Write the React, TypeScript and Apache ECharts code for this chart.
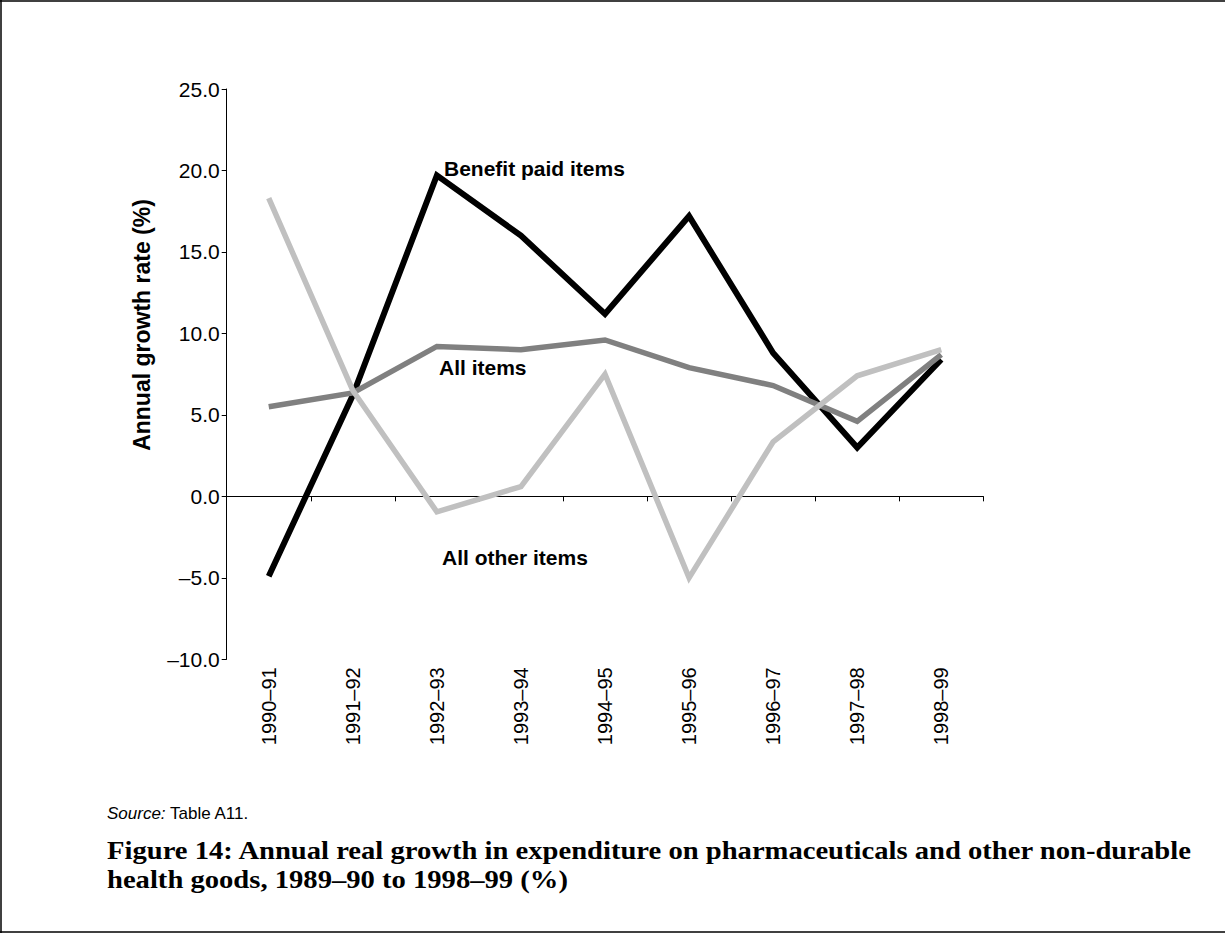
import React, { useEffect, useRef } from "react";
import * as echarts from "echarts";

const categories = ["1990–91", "1991–92", "1992–93", "1993–94", "1994–95", "1995–96", "1996–97", "1997–98", "1998–99"];
const benefitPaid = [-4.9, 6.2, 19.7, 16.0, 11.2, 17.2, 8.8, 3.0, 8.4];
const allItems = [5.5, 6.35, 9.2, 9.0, 9.6, 7.9, 6.8, 4.6, 8.7];
const allOther = [18.3, 6.5, -0.95, 0.6, 7.5, -5.0, 3.35, 7.4, 9.0];
const yTicks = { min: -10, max: 25, interval: 5 };

const SANS = "'Liberation Sans', Arial, sans-serif";
const SERIF = "'Liberation Serif', 'Times New Roman', serif";

export default function App() {
  const ref = useRef<HTMLDivElement>(null);
  useEffect(() => {
    document.body.style.margin = "0";
    const chart = echarts.init(ref.current!, null, { renderer: "svg" });
    const line = (name: string, data: number[], color: string, width: number) => ({
      name,
      type: "line",
      data,
      xAxisIndex: 0,
      symbol: "none",
      lineStyle: { color, width, join: "miter" },
      itemStyle: { color },
      z: 3,
    });
    chart.setOption({
      animation: false,
      backgroundColor: "#ffffff",
      grid: { left: 226.7, right: 241.7, top: 89, bottom: 273.7, containLabel: false },
      xAxis: [
        {
          type: "category",
          data: categories,
          boundaryGap: true,
          position: "bottom",
          axisLine: { onZero: true, lineStyle: { color: "#000", width: 1 } },
          axisTick: { show: true, length: 5, inside: false, lineStyle: { color: "#000" } },
          axisLabel: { show: false },
          splitLine: { show: false },
        },
        {
          type: "category",
          data: categories,
          boundaryGap: true,
          position: "bottom",
          axisLine: { show: false, onZero: false },
          axisTick: { show: false },
          axisLabel: {
            show: true,
            rotate: 90,
            margin: 8,
            color: "#000",
            fontFamily: SANS,
            fontSize: 20,
            interval: 0,
          },
          splitLine: { show: false },
        },
      ],
      yAxis: {
        type: "value",
        min: yTicks.min,
        max: yTicks.max,
        interval: yTicks.interval,
        axisLine: { show: true, lineStyle: { color: "#000", width: 1 } },
        axisTick: { show: true, length: 5, inside: false, lineStyle: { color: "#000" } },
        axisLabel: {
          color: "#000",
          fontFamily: SANS,
          fontSize: 21,
          margin: 7,
          formatter: (v: number) => (v < 0 ? "–" + Math.abs(v).toFixed(1) : v.toFixed(1)),
        },
        splitLine: { show: false },
      },
      series: [
        line("Benefit paid items", benefitPaid, "#000000", 6),
        line("All items", allItems, "#808080", 5.5),
        line("All other items", allOther, "#c0c0c0", 5.5),
      ],
      graphic: [
        { type: "line", shape: { x1: 0, y1: 1, x2: 1225, y2: 1 }, style: { stroke: "#000", lineWidth: 1.5 } },
        { type: "line", shape: { x1: 1, y1: 0, x2: 1, y2: 933 }, style: { stroke: "#000", lineWidth: 1.5 } },
        { type: "line", shape: { x1: 0, y1: 932, x2: 1225, y2: 932 }, style: { stroke: "#000", lineWidth: 1.5 } },
        {
          type: "text",
          x: 142,
          y: 325,
          rotation: Math.PI / 2,
          style: {
            text: "Annual growth rate (%)",
            font: `bold 23px ${SANS}`,
            fill: "#000",
            textAlign: "center",
            textVerticalAlign: "middle",
            align: "center",
            verticalAlign: "middle",
          },
        },
        {
          type: "text",
          x: 444,
          y: 168,
          style: { text: "Benefit paid items", font: `bold 21px ${SANS}`, fill: "#000", textVerticalAlign: "middle", verticalAlign: "middle" },
        },
        {
          type: "text",
          x: 439,
          y: 367,
          style: { text: "All items", font: `bold 21px ${SANS}`, fill: "#000", textVerticalAlign: "middle", verticalAlign: "middle" },
        },
        {
          type: "text",
          x: 442,
          y: 557,
          style: { text: "All other items", font: `bold 21px ${SANS}`, fill: "#000", textVerticalAlign: "middle", verticalAlign: "middle" },
        },
        {
          type: "text",
          x: 107,
          y: 813,
          style: {
            text: "{i|Source:} Table A11.",
            font: `17px ${SANS}`,
            fill: "#000",
            textVerticalAlign: "middle",
            verticalAlign: "middle",
            rich: { i: { fontStyle: "italic", fontFamily: SANS, fontSize: 17 } },
          },
        },
        {
          type: "text",
          x: 107,
          y: 851,
          scaleX: 1.145,
          style: {
            text: "Figure 14: Annual real growth in expenditure on pharmaceuticals and other non-durable",
            font: `bold 25px ${SERIF}`,
            fill: "#000",
            textVerticalAlign: "middle",
            verticalAlign: "middle",
          },
        },
        {
          type: "text",
          x: 107,
          y: 880,
          scaleX: 1.145,
          style: {
            text: "health goods, 1989–90 to 1998–99 (%)",
            font: `bold 25px ${SERIF}`,
            fill: "#000",
            textVerticalAlign: "middle",
            verticalAlign: "middle",
          },
        },
      ],
    });
    return () => chart.dispose();
  }, []);
  return <div ref={ref} style={{ position: "absolute", left: 0, top: 0, width: 1225, height: 933 }} />;
}
